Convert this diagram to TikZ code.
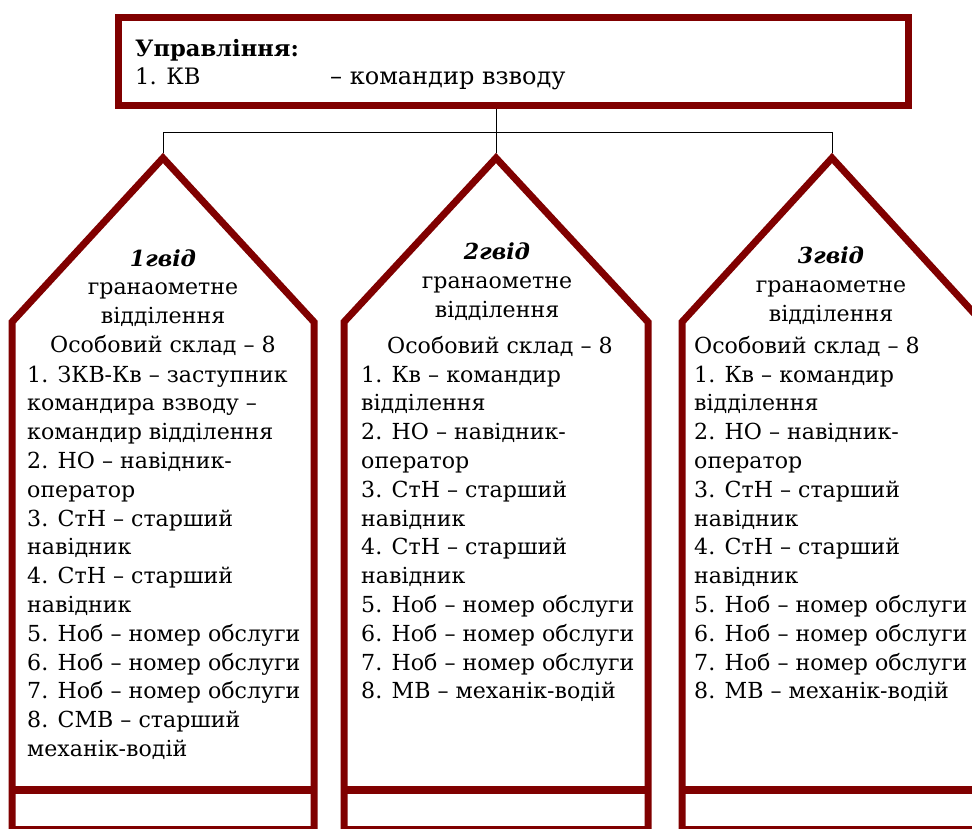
\documentclass[tikz,border=0pt]{standalone}
\usepackage{fontspec}
\setmainfont{DejaVu Serif}
\definecolor{maroon}{HTML}{800000}
\begin{document}
\begin{tikzpicture}[x=1pt,y=-1pt,
  frame/.style={draw=maroon,line width=7pt,line join=miter},
  band/.style={draw=maroon,line width=8pt},
  link/.style={draw=black,line width=0.9pt},
  txt/.style={inner sep=0pt,font=\fontsize{22.1}{28.8}\selectfont},
  head/.style={inner sep=0pt,font=\fontsize{22.1}{29}\selectfont},
]
\useasboundingbox (0,0) rectangle (972,828);
\clip (0,0) rectangle (972,828);
\fill[white] (0,0) rectangle (972,828);

% top box
\node[frame,rectangle,minimum width=790pt,minimum height=88pt,inner sep=0pt] (top) at (513.5,61.5) {};
\node[txt,anchor=base west,font=\fontsize{22.6}{28.8}\selectfont] (tl1) at (135,56) {\bfseries Управління:};
\node[txt,anchor=base west,font=\fontsize{22.6}{28.8}\selectfont] (tl2) at (135,84) {1. КВ};
\node[txt,anchor=base west,font=\fontsize{24}{28.8}\selectfont] (tl3) at (330,84) {– командир взводу};

% pentagons
\draw[frame] (12,829.5) -- (12,322) -- (163,158) -- (314,322) -- (314,829.5) -- cycle;
\draw[band] (12,790) -- (314,790);
\coordinate (p1) at (163,153);
\draw[frame] (344,829.5) -- (344,322) -- (496,158) -- (648,322) -- (648,829.5) -- cycle;
\draw[band] (344,790) -- (648,790);
\coordinate (p2) at (496,153);
\draw[frame] (682,829.5) -- (682,322) -- (832,158) -- (982,322) -- (982,829.5) -- cycle;
\draw[band] (682,790) -- (982,790);
\coordinate (p3) at (832,153);

% connectors
\coordinate (bus) at (496,132);
\draw[link] (top.south -| p2) -- (bus);
\draw[link] (p1) -- (p1 |- bus) -- (p3 |- bus) -- (p3);
\draw[link] (bus) -- (p2);

% pentagon 1 text
\node[txt,anchor=base] (h1) at (163,266) {\begin{tabular}[t]{@{}c@{}}\textbf{\textit{1гвід}}\\ гранаометне\\ відділення\\ Особовий склад – 8\end{tabular}};
\node[txt,anchor=base west] (b1) at (27,382) {\begin{tabular}[t]{@{}l@{}}1. ЗКВ-Кв – заступник\\ командира взводу –\\ командир відділення\\ 2. НО – навідник-\\ оператор\\ 3. СтН – старший\\ навідник\\ 4. СтН – старший\\ навідник\\ 5. Ноб – номер обслуги\\ 6. Ноб – номер обслуги\\ 7. Ноб – номер обслуги\\ 8. СМВ – старший\\ механік-водій\end{tabular}};

% pentagon 2 text
\node[head,anchor=base] (h2) at (497,259) {\begin{tabular}[t]{@{}c@{}}\textbf{\textit{2гвід}}\\ гранаометне\\ відділення\end{tabular}};
\node[txt,anchor=base] (o2) at (500,353) {Особовий склад – 8};
\node[txt,anchor=base west] (b2) at (361,382) {\begin{tabular}[t]{@{}l@{}}1. Кв – командир\\ відділення\\ 2. НО – навідник-\\ оператор\\ 3. СтН – старший\\ навідник\\ 4. СтН – старший\\ навідник\\ 5. Ноб – номер обслуги\\ 6. Ноб – номер обслуги\\ 7. Ноб – номер обслуги\\ 8. МВ – механік-водій\end{tabular}};

% pentagon 3 text
\node[head,anchor=base] (h3) at (831,263) {\begin{tabular}[t]{@{}c@{}}\textbf{\textit{3гвід}}\\ гранаометне\\ відділення\end{tabular}};
\node[txt,anchor=base west] (o3) at (694,353) {Особовий склад – 8};
\node[txt,anchor=base west] (b3) at (694,382) {\begin{tabular}[t]{@{}l@{}}1. Кв – командир\\ відділення\\ 2. НО – навідник-\\ оператор\\ 3. СтН – старший\\ навідник\\ 4. СтН – старший\\ навідник\\ 5. Ноб – номер обслуги\\ 6. Ноб – номер обслуги\\ 7. Ноб – номер обслуги\\ 8. МВ – механік-водій\end{tabular}};
\end{tikzpicture}
\end{document}
